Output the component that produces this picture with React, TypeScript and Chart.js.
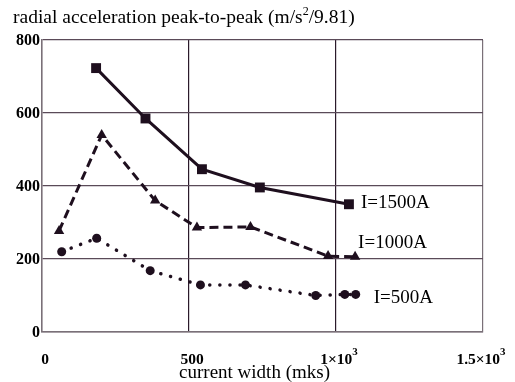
import { useEffect, useRef } from 'react';
import { Chart, registerables } from 'chart.js';
Chart.register(...registerables);

const xTickValues = [0, 500, 1000, 1500];
const xTickBase = ['0', '500', '1×10', '1.5×10'];
const xTickSup = ['', '', '3', '3'];
const yTickValues = [0, 200, 400, 600, 800];
const yTickLabels = ['0', '200', '400', '600', '800'];

const seriesNames = ['I=1500A', 'I=1000A', 'I=500A'];
const x1500 = [184, 352, 544, 741, 1044];
const y1500 = [723, 585, 446, 396, 350];
const x1000 = [58, 203, 385, 527, 709, 973, 1065];
const y1000 = [277, 540, 360, 286, 288, 208, 206];
const x500 = [67, 186, 368, 539, 692, 931, 1030, 1067];
const y500 = [220, 257, 168, 129, 129, 100, 103, 103];

const titleBase = 'radial acceleration peak-to-peak (m/s';
const titleSup = '2';
const titleEnd = '/9.81)';
const xAxisTitle = 'current width (mks)';

const INK = '#1e0f1e';
const SERIF = '"Liberation Serif", "Times New Roman", serif';

const toPts = (xs: number[], ys: number[]) => xs.map((x, i) => ({ x, y: ys[i] }));

const labelOffsets = [
  { dx: 12, dy: -1 },
  { dx: 3, dy: -14 },
  { dx: 18, dy: 4 },
];

const textPlugin = {
  id: 'textPlugin',
  afterDraw(chart: any) {
    const ctx = chart.ctx as CanvasRenderingContext2D;
    const xs = chart.scales.x;
    const ys = chart.scales.y;
    const area = chart.chartArea;
    ctx.save();
    ctx.fillStyle = '#000';
    // title
    ctx.font = `19.5px ${SERIF}`;
    ctx.textBaseline = 'alphabetic';
    ctx.textAlign = 'left';
    let tx = 13;
    const ty = 23;
    ctx.fillText(titleBase, tx, ty);
    tx += ctx.measureText(titleBase).width;
    ctx.font = `12px ${SERIF}`;
    ctx.fillText(titleSup, tx, ty - 8);
    tx += ctx.measureText(titleSup).width;
    ctx.font = `19.5px ${SERIF}`;
    ctx.fillText(titleEnd, tx, ty);

    // y ticks
    ctx.font = `bold 16px ${SERIF}`;
    ctx.textAlign = 'right';
    ctx.textBaseline = 'middle';
    yTickValues.forEach((v, i) => {
      ctx.fillText(yTickLabels[i], area.left - 2, ys.getPixelForValue(v) + 1);
    });

    // x ticks
    ctx.textBaseline = 'alphabetic';
    xTickValues.forEach((v, i) => {
      const px = xs.getPixelForValue(v);
      ctx.font = `bold 15.5px ${SERIF}`;
      const bw = ctx.measureText(xTickBase[i]).width;
      ctx.font = `bold 11px ${SERIF}`;
      const sw = xTickSup[i] ? ctx.measureText(xTickSup[i]).width : 0;
      const total = bw + sw;
      let start = px - total / 2 + 3;
      if (i === xTickValues.length - 1) start = px - total / 2 - 2;
      ctx.textAlign = 'left';
      ctx.font = `bold 15.5px ${SERIF}`;
      ctx.fillText(xTickBase[i], start, 364);
      if (xTickSup[i]) {
        ctx.font = `bold 11px ${SERIF}`;
        ctx.fillText(xTickSup[i], start + bw, 355);
      }
    });

    // axis title
    ctx.font = `19px ${SERIF}`;
    ctx.textAlign = 'center';
    ctx.fillText(xAxisTitle, xs.getPixelForValue(750) - 8, 377.5);

    // series labels
    ctx.font = `19px ${SERIF}`;
    ctx.textAlign = 'left';
    ctx.textBaseline = 'middle';
    chart.data.datasets.forEach((ds: any, i: number) => {
      const meta = chart.getDatasetMeta(i);
      const last = meta.data[meta.data.length - 1];
      const o = labelOffsets[i];
      ctx.fillText(seriesNames[i], last.x + o.dx, last.y + o.dy);
    });
    ctx.restore();
  },
};

export default function App() {
  const ref = useRef<HTMLCanvasElement>(null);
  useEffect(() => {
    if (!ref.current) return;
    const chart = new Chart(ref.current, {
      type: 'line',
      data: {
        datasets: [
          {
            label: seriesNames[0],
            data: toPts(x1500, y1500),
            borderColor: INK,
            backgroundColor: INK,
            borderWidth: 3,
            pointStyle: 'rect',
            pointRadius: 7,
            pointBorderWidth: 0,
          },
          {
            label: seriesNames[1],
            data: toPts(x1000, y1000),
            borderColor: INK,
            backgroundColor: INK,
            borderWidth: 3,
            borderDash: [9, 5],
            pointStyle: 'triangle',
            pointRadius: 6,
            pointBorderWidth: 0,
          },
          {
            label: seriesNames[2],
            data: toPts(x500, y500),
            borderColor: INK,
            backgroundColor: INK,
            borderWidth: 3.5,
            borderDash: [0.1, 10],
            borderCapStyle: 'round',
            pointStyle: 'circle',
            pointRadius: 4.5,
            pointBorderWidth: 0,
          },
        ],
      },
      options: {
        responsive: false,
        animation: false,
        devicePixelRatio: 1,
        layout: { padding: { left: 42, right: 32, top: 40, bottom: 50 } },
        plugins: { legend: { display: false }, tooltip: { enabled: false }, title: { display: false } },
        scales: {
          x: {
            type: 'linear',
            min: 0,
            max: 1500,
            ticks: { display: false, stepSize: 500 },
            grid: {
              drawTicks: false,
              lineWidth: 1.2,
              color: (c: any) => (c.tick && (c.tick.value === 500 || c.tick.value === 1000) ? '#2b1a2b' : '#7a7078'),
            },
            border: { display: true, color: '#7a7078', width: 1.5 },
          },
          y: {
            min: 0,
            max: 800,
            ticks: { display: false, stepSize: 200 },
            grid: { drawTicks: false, lineWidth: 1.2, color: '#5a4a58' },
            border: { display: true, color: '#7a7078', width: 1.5 },
          },
        },
      },
      plugins: [textPlugin],
    });
    return () => chart.destroy();
  }, []);
  return (
    <div style={{ position: 'absolute', left: 0, top: 0, width: 515, height: 382, background: '#fff' }}>
      <canvas ref={ref} width={515} height={382} />
    </div>
  );
}
